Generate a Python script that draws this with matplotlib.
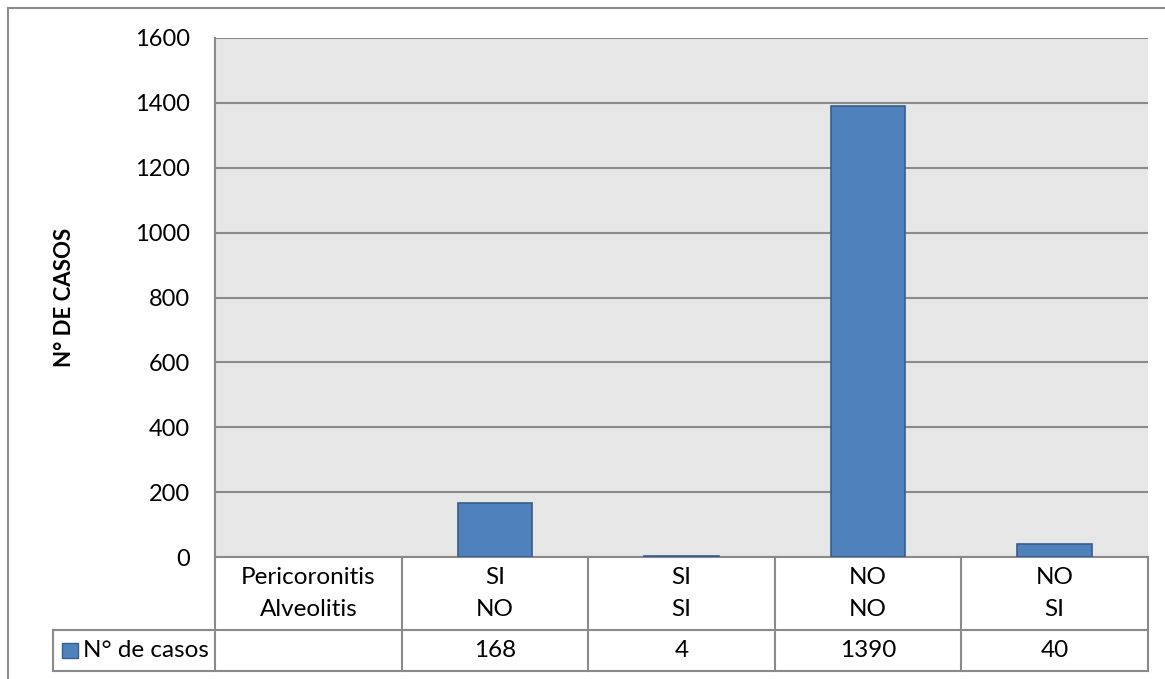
import matplotlib.pyplot as plt
import matplotlib.transforms as mtransforms
from matplotlib.patches import Rectangle

plt.rcParams['font.family'] = ['Lato', 'DejaVu Sans']

# data
fila1 = ['Pericoronitis', 'SI', 'SI', 'NO', 'NO']
fila2 = ['Alveolitis', 'NO', 'SI', 'NO', 'SI']
casos = [None, 168, 4, 1390, 40]
serie = 'N° de casos'
yticks = [0, 200, 400, 600, 800, 1000, 1200, 1400, 1600]

W, H = 1165, 679
fig = plt.figure(figsize=(W / 100, H / 100), dpi=100)

# marco exterior
fig.add_artist(plt.Line2D([8 / W, 1], [1 - 8 / H, 1 - 8 / H], color='#8c8c8c', lw=1.5, transform=fig.transFigure))
fig.add_artist(plt.Line2D([8 / W, 8 / W], [0, 1 - 8 / H], color='#8c8c8c', lw=1.5, transform=fig.transFigure))

x0, x1, y0, y1 = 215, 1148, 557, 38
ax = fig.add_axes([x0 / W, 1 - y0 / H, (x1 - x0) / W, (y0 - y1) / H])
ax.set_facecolor('#e6e6e6')

xs = list(range(len(casos)))
bx = [i for i in xs if casos[i] is not None]
bv = [casos[i] for i in bx]
ax.bar(bx, bv, width=0.4, color='#4f81bd', edgecolor='#385d8a', linewidth=1.2, zorder=3)

ax.set_xlim(-0.5, len(casos) - 0.5)
ax.set_ylim(0, 1600)
ax.set_yticks(yticks)
ax.set_xticks([])
ax.tick_params(axis='y', length=0, pad=18, labelsize=17)
ax.yaxis.grid(True, color='#8a8a8a', lw=1.5, zorder=1)
ax.set_axisbelow(True)
for s in ['top', 'right', 'bottom']:
    ax.spines[s].set_visible(False)
ax.spines['left'].set_color('#8a8a8a')
ax.spines['left'].set_linewidth(1.5)

ax.set_ylabel('N° DE CASOS', fontsize=16, fontweight='bold')
ax.yaxis.set_label_coords(-0.15, 0.5)

# tabla de datos
trans = mtransforms.blended_transform_factory(ax.transData, ax.transAxes)
ph = y0 - y1
r1 = -(630 - y0) / ph
r2 = -(671 - y0) / ph
t1 = -(577 - y0) / ph
t2 = -(609 - y0) / ph
xl = -0.5 - (x0 - 53) / ((x1 - x0) / len(casos))
lc = '#8a8a8a'
kw = dict(transform=trans, clip_on=False, color=lc, lw=1.5)
ax.plot([-0.5, len(casos) - 0.5], [0, 0], **kw)
ax.plot([xl, len(casos) - 0.5], [r1, r1], **kw)
ax.plot([xl, len(casos) - 0.5], [r2, r2], **kw)
ax.plot([xl, xl], [r1, r2], **kw)
for i in range(len(casos) + 1):
    ax.plot([i - 0.5, i - 0.5], [0, r2], **kw)

fs = 17.5
for i in xs:
    ax.text(i, t1, fila1[i], transform=trans, ha='center', va='center', fontsize=fs, clip_on=False)
    ax.text(i, t2, fila2[i], transform=trans, ha='center', va='center', fontsize=fs, clip_on=False)
    if casos[i] is not None:
        ax.text(i, (r1 + r2) / 2, str(casos[i]), transform=trans, ha='center', va='center', fontsize=fs, clip_on=False)

# clave de leyenda
cw = (x1 - x0) / len(casos)
ax.add_patch(Rectangle((xl + 9 / cw, (r1 + r2) / 2 - 7.5 / ph), 16 / cw, 15 / ph, transform=trans, clip_on=False,
                       facecolor='#4f81bd', edgecolor='#385d8a', lw=1.0))
ax.text(xl + 30 / cw, (r1 + r2) / 2, serie, transform=trans, ha='left', va='center', fontsize=fs, clip_on=False)

fig.savefig('out.png', dpi=100)
